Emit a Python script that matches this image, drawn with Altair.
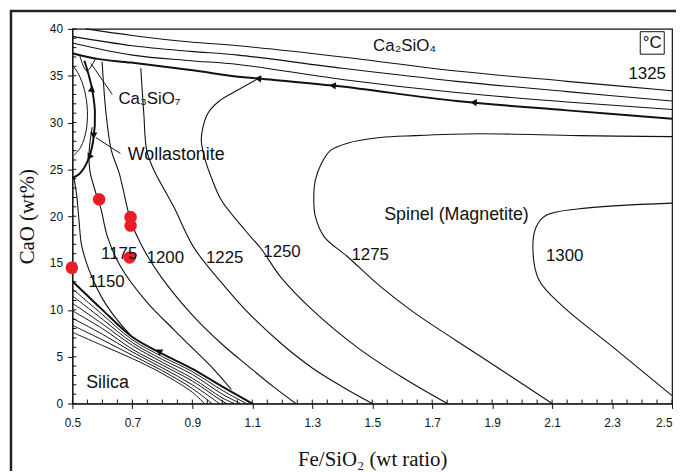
import altair as alt
import pandas as pd

# ---------------- axis ticks ----------------
X_TICKS = [0.5, 0.7, 0.9, 1.1, 1.3, 1.5, 1.7, 1.9, 2.1, 2.3, 2.5]
Y_TICKS = [0, 5, 10, 15, 20, 25, 30, 35, 40]
X_MINOR = [round(0.5 + 0.05 * i, 2) for i in range(41)]
Y_MINOR = list(range(0, 41))

# ---------------- isotherms (thin) ----------------
ISO_1150_X = [0.505, 0.515, 0.522, 0.530, 0.545, 0.565, 0.600, 0.650, 0.700]
ISO_1150_Y = [24.2, 22.0, 19.5, 17.0, 15.2, 13.5, 11.2, 8.9, 7.1]
ISO_1175_X = [0.566, 0.556, 0.558, 0.575, 0.595, 0.617, 0.661, 0.749, 0.838, 0.904, 0.970, 1.030]
ISO_1175_Y = [29.5, 27.0, 24.9, 22.8, 20.8, 17.8, 14.6, 10.8, 7.9, 5.8, 3.7, 1.5]
ISO_1200_X = [0.599, 0.612, 0.630, 0.656, 0.694, 0.727, 0.794, 0.904, 1.000, 1.086, 1.170, 1.245]
ISO_1200_Y = [36.5, 31.0, 27.0, 24.6, 19.6, 17.1, 13.6, 9.3, 6.3, 4.0, 1.8, 0.0]
ISO_1225_X = [0.728, 0.738, 0.748, 0.772, 0.838, 0.904, 1.000, 1.086, 1.200, 1.300, 1.400, 1.500]
ISO_1225_Y = [35.8, 31.0, 27.0, 24.9, 21.0, 16.7, 12.8, 9.7, 6.3, 3.8, 1.8, 0.0]
ISO_1250_X = [1.120, 1.053, 0.990, 0.952, 0.934, 0.930, 0.944, 0.965, 0.997, 1.076, 1.130, 1.195, 1.300, 1.450, 1.600, 1.750]
ISO_1250_Y = [34.7, 33.5, 32.3, 31.0, 29.3, 28.0, 25.9, 24.0, 21.7, 18.5, 16.5, 13.5, 10.0, 6.0, 2.8, 0.0]
ISO_1275_X = [2.500, 2.190, 1.858, 1.640, 1.527, 1.417, 1.360, 1.330, 1.310, 1.305, 1.310, 1.340, 1.417, 1.527, 1.640, 1.858, 2.100]
ISO_1275_Y = [28.5, 28.6, 28.8, 28.6, 28.4, 27.8, 27.0, 25.6, 23.8, 21.7, 20.0, 17.8, 15.7, 12.5, 9.7, 5.1, 0.0]
ISO_1300_X = [2.500, 2.190, 2.080, 2.046, 2.036, 2.056, 2.135, 2.300, 2.500]
ISO_1300_Y = [21.4, 20.8, 20.1, 18.8, 16.4, 13.2, 10.4, 6.1, 0.85]

# Ca2SiO4 field isotherms (thin) and boundary (thick)
TOP1_X = [0.545, 0.700, 0.894, 1.053, 1.400, 1.781, 2.150, 2.500]
TOP1_Y = [40.0, 39.3, 38.6, 38.2, 37.0, 35.5, 34.4, 33.4]
TOP2_X = [0.500, 0.700, 0.894, 1.053, 1.400, 1.781, 2.150, 2.500]
TOP2_Y = [39.2, 38.2, 37.6, 37.2, 35.8, 34.4, 33.3, 32.3]
TOP3_X = [0.500, 0.700, 0.894, 1.053, 1.400, 1.781, 2.150, 2.500]
TOP3_Y = [38.5, 37.2, 36.6, 36.2, 34.6, 33.2, 32.2, 31.4]
BND_C2S_X = [0.500, 0.583, 0.695, 0.894, 1.053, 1.120, 1.384, 1.781, 2.150, 2.500]
BND_C2S_Y = [37.4, 36.8, 36.4, 35.6, 34.9, 34.7, 33.9, 32.3, 31.3, 30.4]

# wollastonite field boundary (thick) and inner arc
BND_WOL_X = [0.540, 0.562, 0.575, 0.569, 0.551, 0.523, 0.500]
BND_WOL_Y = [36.6, 34.1, 31.2, 28.0, 25.9, 24.5, 24.1]
ARC_X = [0.503, 0.520, 0.540, 0.550, 0.545, 0.528, 0.505]
ARC_Y = [36.0, 35.2, 33.5, 31.2, 29.0, 27.4, 26.5]
C3S_X = [0.525, 0.548, 0.578]
C3S_Y = [37.1, 35.5, 36.9]

# silica boundary (thick) and hatching
BND_SIL_X = [0.5, 0.6, 0.7, 0.8, 0.9, 1.0, 1.1]
BND_SIL_Y = [13.05, 10.0, 7.1, 5.3, 3.7, 1.8, 0.0]
HATCH_X1 = [0.5, 0.6, 0.7, 0.8, 0.9, 1.0, 1.08]
HATCH_Y1 = [12.25, 9.5, 6.8, 5.0, 3.4, 1.4, 0.0]
HATCH_X2 = [0.5, 0.6, 0.7, 0.8, 0.9, 1.0, 1.06]
HATCH_Y2 = [11.5, 9.0, 6.5, 4.7, 3.1, 1.0, 0.0]
HATCH_X3 = [0.5, 0.6, 0.7, 0.8, 0.9, 1.0, 1.04]
HATCH_Y3 = [10.7, 8.5, 6.2, 4.4, 2.7, 0.6, 0.0]
HATCH_X4 = [0.5, 0.6, 0.7, 0.8, 0.9, 1.0, 1.015]
HATCH_Y4 = [9.9, 8.0, 5.8, 4.1, 2.4, 0.25, 0.0]
HATCH_X5 = [0.5, 0.6, 0.7, 0.8, 0.9, 0.99]
HATCH_Y5 = [9.1, 7.4, 5.5, 3.8, 2.0, 0.0]
HATCH_X6 = [0.5, 0.6, 0.7, 0.8, 0.9, 0.965]
HATCH_Y6 = [8.35, 6.8, 5.15, 3.5, 1.6, 0.0]
HATCH_X7 = [0.5, 0.6, 0.7, 0.8, 0.9, 0.94]
HATCH_Y7 = [7.6, 6.2, 4.8, 3.2, 1.2, 0.0]

# leader lines
LEAD1_X = [0.562, 0.633]
LEAD1_Y = [36.3, 33.0]
LEAD2_X = [0.578, 0.660]
LEAD2_Y = [28.4, 26.7]

# arrow heads
ARROW_X = [1.119, 1.368, 1.838, 0.788, 0.565, 0.571, 0.556]
ARROW_Y = [34.7, 33.95, 32.15, 5.6, 33.6, 28.6, 26.3]
ARROW_SHAPE = ["triangle-left", "triangle-left", "triangle-left", "triangle-left",
               "triangle-up", "triangle-down", "triangle-down"]
ARROW_ANGLE = [5, 5, 5, 30, 10, 0, 30]

# red sample points
PTS_X = [0.498, 0.589, 0.694, 0.694, 0.691]
PTS_Y = [14.5, 21.8, 19.9, 19.0, 15.6]

# labels
TXT = ["Ca\u2083SiO\u2087", "Wollastonite", "Ca\u2082SiO\u2084", "1325", "Spinel (Magnetite)",
       "Silica", "1150", "1175", "1200", "1225", "1250", "1275", "1300", "\u00b0C"]
TXT_X = [0.757, 0.846, 1.608, 2.417, 1.781, 0.617, 0.614, 0.656, 0.810, 1.008, 1.199, 1.493, 2.142, 2.434]
TXT_Y = [32.5, 26.5, 38.2, 35.2, 20.1, 2.2, 13.0, 16.0, 15.5, 15.5, 16.2, 15.9, 15.8, 38.5]
TXT_SIZE = [17, 18, 17, 17, 18, 18, 17, 17, 17, 17, 17, 17, 17, 17]
BOX_X = [2.394, 2.474]
BOX_Y = [37.3, 39.7]

W, H = 605, 378

curves = [
    ("1150", ISO_1150_X, ISO_1150_Y, 1.1), ("1175", ISO_1175_X, ISO_1175_Y, 1.1),
    ("1200", ISO_1200_X, ISO_1200_Y, 1.1), ("1225", ISO_1225_X, ISO_1225_Y, 1.1),
    ("1250", ISO_1250_X, ISO_1250_Y, 1.1), ("1275", ISO_1275_X, ISO_1275_Y, 1.1),
    ("1300", ISO_1300_X, ISO_1300_Y, 1.1),
    ("top1", TOP1_X, TOP1_Y, 1.1), ("top2", TOP2_X, TOP2_Y, 1.1), ("top3", TOP3_X, TOP3_Y, 1.1),
    ("c2s", BND_C2S_X, BND_C2S_Y, 2.0), ("wol", BND_WOL_X, BND_WOL_Y, 2.0),
    ("arc", ARC_X, ARC_Y, 1.0), ("c3s", C3S_X, C3S_Y, 1.0),
    ("sil", BND_SIL_X, BND_SIL_Y, 2.0),
    ("h1", HATCH_X1, HATCH_Y1, 1.0), ("h2", HATCH_X2, HATCH_Y2, 1.0), ("h3", HATCH_X3, HATCH_Y3, 1.0),
    ("h4", HATCH_X4, HATCH_Y4, 1.0), ("h5", HATCH_X5, HATCH_Y5, 1.0), ("h6", HATCH_X6, HATCH_Y6, 1.0),
    ("h7", HATCH_X7, HATCH_Y7, 1.0),
    ("lead1", LEAD1_X, LEAD1_Y, 1.0), ("lead2", LEAD2_X, LEAD2_Y, 1.0),
]
rows = []
for name, xs, ys, w in curves:
    for i, (a, b) in enumerate(zip(xs, ys)):
        rows.append({"curve": name, "x": a, "y": b, "order": i, "w": w})
lines_df = pd.DataFrame(rows)

xscale = alt.Scale(domain=[0.5, 2.5], nice=False, zero=False)
yscale = alt.Scale(domain=[0, 40], nice=False, zero=False)
X = alt.X("x:Q", scale=xscale, title="Fe/SiO\u2082 (wt ratio)",
          axis=alt.Axis(values=X_TICKS, format=".1f", labelFlush=False, grid=False,
                        labelAlign={"expr": "datum.value >= 2.45 ? 'right' : 'center'"},
                        tickSize=5, labelPadding=9, titlePadding=21))
Y = alt.Y("y:Q", scale=yscale, title="CaO (wt%)",
          axis=alt.Axis(values=Y_TICKS, grid=False, tickSize=5, labelPadding=5, titlePadding=12))

lines = alt.Chart(lines_df).mark_line(interpolate="catmull-rom", color="#111").encode(
    x=X, y=Y, detail="curve:N", order="order:Q",
    strokeWidth=alt.StrokeWidth("w:Q", scale=None))

xminor = alt.Chart(pd.DataFrame({"x": X_MINOR})).mark_rule(color="#111", strokeWidth=1).encode(
    x=X, y=alt.value(H), y2=alt.value(H - 4))
yminor = alt.Chart(pd.DataFrame({"y": Y_MINOR})).mark_rule(color="#111", strokeWidth=1).encode(
    y=Y, x=alt.value(0), x2=alt.value(4))

arrows = alt.Chart(pd.DataFrame({"x": ARROW_X, "y": ARROW_Y, "s": ARROW_SHAPE, "a": ARROW_ANGLE})).mark_point(
    filled=True, color="#111", size=55, opacity=1).encode(
    x=X, y=Y, shape=alt.Shape("s:N", scale=None), angle=alt.Angle("a:Q", scale=None))

pts = alt.Chart(pd.DataFrame({"x": PTS_X, "y": PTS_Y})).mark_circle(
    color="#ec1c24", size=160, opacity=1).encode(x=X, y=Y)

texts = alt.Chart(pd.DataFrame({"x": TXT_X, "y": TXT_Y, "t": TXT, "s": TXT_SIZE})).mark_text(
    font="Liberation Sans", color="#111", align="center", baseline="middle").encode(
    x=X, y=Y, text="t:N", size=alt.Size("s:Q", scale=None))

box = alt.Chart(pd.DataFrame({"x": [BOX_X[0]], "x2": [BOX_X[1]], "y": [BOX_Y[0]], "y2": [BOX_Y[1]]})).mark_rect(
    filled=False, stroke="#111", strokeWidth=1).encode(x=X, x2="x2:Q", y=Y, y2="y2:Q")

frame_l = alt.Chart(pd.DataFrame({"a": [0]})).mark_rule(color="#222", strokeWidth=2.5).encode(
    x=alt.value(-62), y=alt.value(-19), y2=alt.value(H + 70))
frame_t = alt.Chart(pd.DataFrame({"a": [0]})).mark_rule(color="#222", strokeWidth=2.5).encode(
    x=alt.value(-63), x2=alt.value(W + 6), y=alt.value(-18))

chart = alt.layer(lines, xminor, yminor, arrows, pts, texts, box, frame_l, frame_t).properties(
    width=W, height=H,
    autosize=alt.AutoSizeParams(type="none"),
    padding={"left": 65, "top": 19, "right": 4, "bottom": 66},
    background="white",
).configure_view(stroke="#111", strokeWidth=1.2).configure_axis(
    domainColor="#111", tickColor="#111", labelColor="#111", titleColor="#111",
    labelFont="Liberation Sans", labelFontSize=12,
    titleFont="Liberation Serif", titleFontSize=21, titleFontWeight="normal",
)

chart.save("out.html", embed_options={"renderer": "svg", "actions": False})
